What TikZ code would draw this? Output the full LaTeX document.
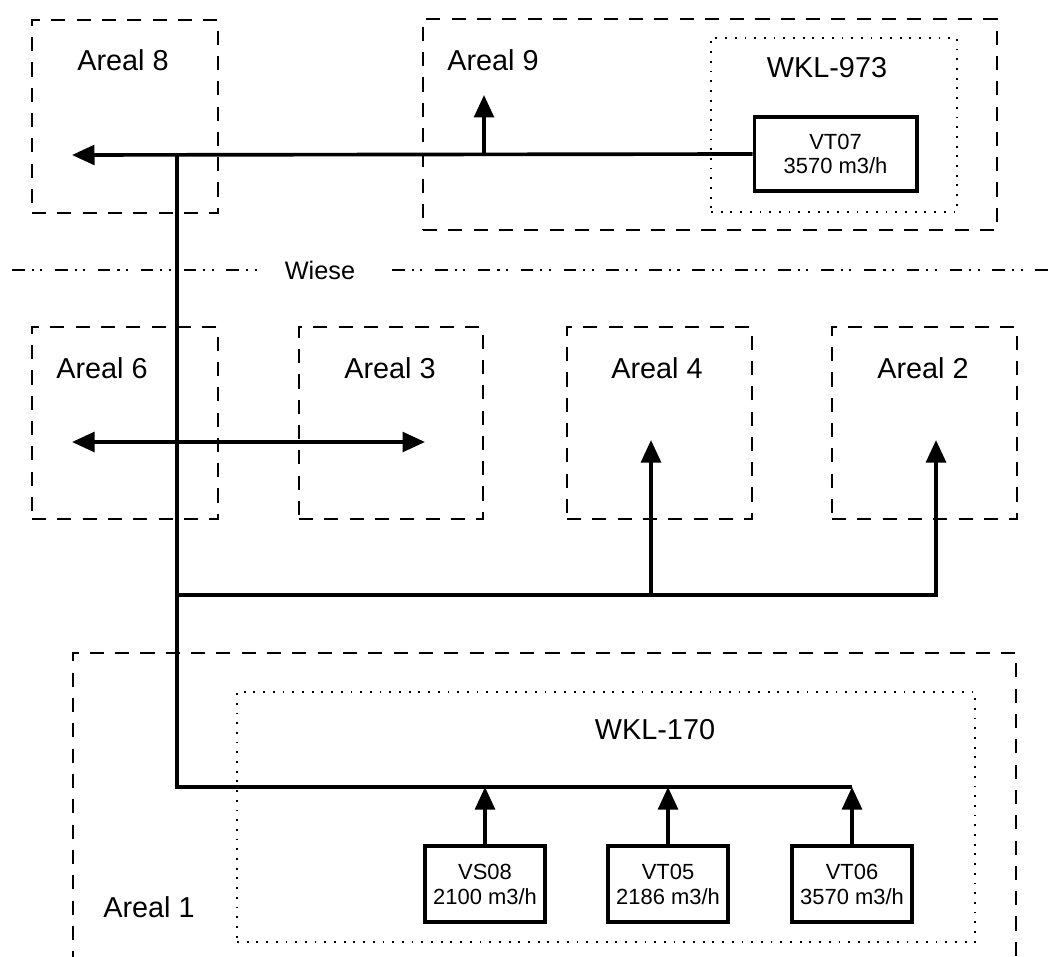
\documentclass[tikz,border=0pt]{standalone}
\usepackage{fontspec}
\setmainfont{Liberation Sans}
\usetikzlibrary{arrows.meta,positioning,fit}

\begin{document}
\begin{tikzpicture}[x=0.025cm,y=-0.025cm,
  areal/.style={draw,line width=1.4pt,dash pattern=on 10pt off 8pt,inner sep=0pt},
  wkl/.style={draw,line width=1.4pt,dash pattern=on 1.3pt off 5.6pt,inner sep=0pt},
  wiese/.style={line width=1.3pt,dash pattern=on 9pt off 5pt on 1.5pt off 4.5pt on 1.5pt off 9pt},
  lbl/.style={font=\fontsize{20.5pt}{24pt}\selectfont},
  well/.style={draw,line width=2.8pt,align=center,inner sep=0pt,font=\fontsize{15.6pt}{17.7pt}\selectfont},
  pipe/.style={line width=2.6pt},
  flow/.style={pipe,-{Triangle[length=16pt,width=14pt]}},
  both/.style={pipe,{Triangle[length=16pt,width=14pt]}-{Triangle[length=16pt,width=14pt]}}]
\useasboundingbox (0,0) rectangle (1050,957);
\clip (0,0) rectangle (1050,957);

% areas
\node[areal,fit={(32,20) (218,213)}] (a8) {};
\node[areal,fit={(423,19) (997,230)}] (a9) {};
\node[areal,fit={(32,327) (218,519)}] (a6) {};
\node[areal,fit={(299,327) (483,519)}] (a3) {};
\node[areal,fit={(567,327) (752,519)}] (a4) {};
\node[areal,fit={(832,327) (1017,519)}] (a2) {};
\node[areal,fit={(73,653) (1016,1000)}] (a1) {};
\node[wkl,fit={(711,38) (957,212)}] (w973) {};
\node[wkl,fit={(237,692) (975,942)}] (w170) {};

\node[lbl] (l8) at (123,60) {Areal 8};
\node[lbl] (l9) at (493,60) {Areal 9};
\node[lbl] (l973) at (827,68) {WKL-973};
\node[lbl] (l6) at (102,368) {Areal 6};
\node[lbl] (l3) at (390,368) {Areal 3};
\node[lbl] (l4) at (657,368) {Areal 4};
\node[lbl] (l2) at (923,368) {Areal 2};
\node[lbl] (l170) at (655,730) {WKL-170};
\node[lbl] (l1) at (149,907) {Areal 1};

% meadow line
\node[font=\fontsize{18pt}{21pt}\selectfont] (wiese) at (320,270) {Wiese};
\draw[wiese] (12,270) -- (260,270);
\draw[wiese] (392,270) -- (1050,270);

% wells
\node[well,minimum width=4.05cm,minimum height=1.85cm] (vt07) at (835.5,154) {VT07\\3570 m3/h};
\node[well,minimum width=3cm,minimum height=1.9cm] (vs08) at (485,884) {VS08\\2100 m3/h};
\node[well,minimum width=3cm,minimum height=1.9cm] (vt05) at (668,884) {VT05\\2186 m3/h};
\node[well,minimum width=3cm,minimum height=1.9cm] (vt06) at (852,884) {VT06\\3570 m3/h};

% pipes
\coordinate (j8) at (177,155);
\coordinate (t8) at (72,155);
\coordinate (j9) at (484,155);
\coordinate (t9) at (484,95);
\coordinate (t6) at (72,442);
\coordinate (t3) at (425,442);
\coordinate (jm) at (177,595);
\coordinate (j4) at (651,595);
\coordinate (t4) at (651,440);
\coordinate (t2) at (936,440);
\coordinate (j1) at (177,787);

\draw[flow] (vt07.west) -- (t8);
\draw[flow] (j9) -- (t9);
\draw[pipe] (j8) -- (j1) -- (vt06.north |- j1);
\draw[both] (t6) -- (t3);
\draw[flow] (jm) -| (t2);
\draw[flow] (j4) -- (t4);
\draw[flow] (vs08.north) -- (vs08.north |- j1);
\draw[flow] (vt05.north) -- (vt05.north |- j1);
\draw[flow] (vt06.north) -- (vt06.north |- j1);
\end{tikzpicture}
\end{document}
